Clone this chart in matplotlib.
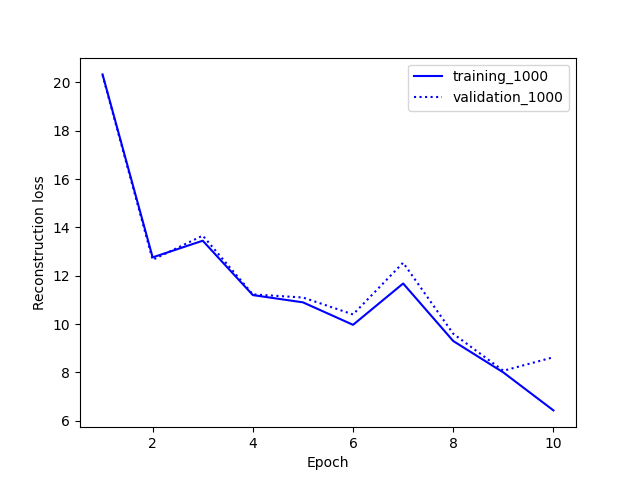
import matplotlib
matplotlib.use("Agg")
import matplotlib.pyplot as plt

epochs = [1, 2, 3, 4, 5, 6, 7, 8, 9, 10]
training_1000 = [20.33, 12.76, 13.45, 11.2, 10.9, 9.97, 11.68, 9.3, 8.0, 6.43]
validation_1000 = [20.3, 12.66, 13.66, 11.23, 11.1, 10.4, 12.54, 9.6, 8.07, 8.63]

fig, ax = plt.subplots(figsize=(6.4, 4.8), dpi=100)
ax.plot(epochs, training_1000, color="blue", linestyle="-", label="training_1000")
ax.plot(epochs, validation_1000, color="blue", linestyle=":", label="validation_1000")
ax.set_xlabel("Epoch")
ax.set_ylabel("Reconstruction loss")
ax.legend(loc="upper right")
fig.savefig("out.png")
